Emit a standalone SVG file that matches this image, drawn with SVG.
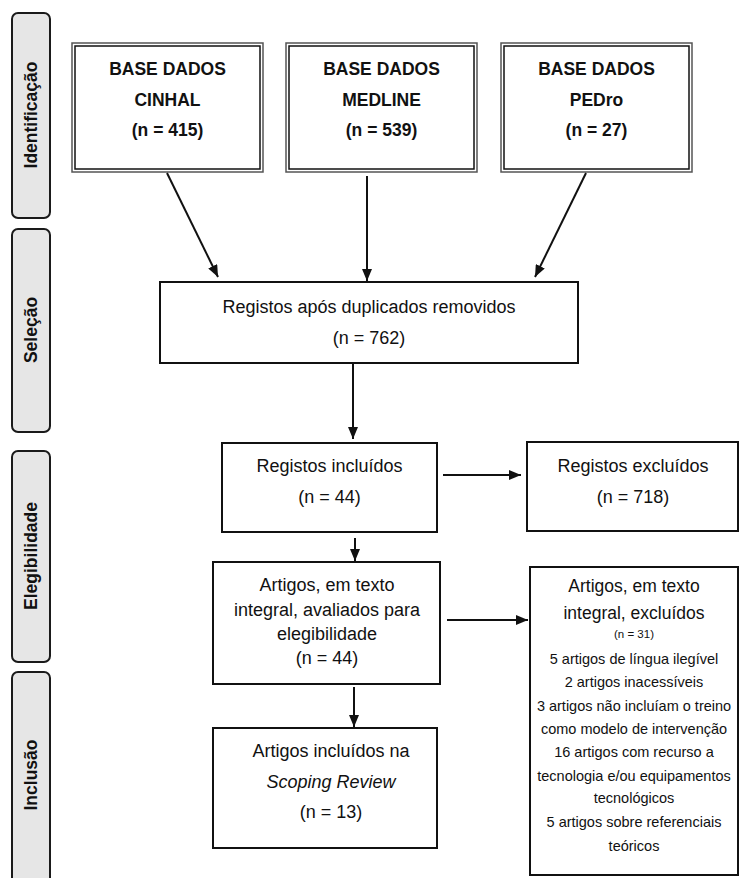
<svg xmlns="http://www.w3.org/2000/svg" width="739" height="878" viewBox="0 0 739 878">
<style>
.tab{fill:#e6e6e6;stroke:#1a1a1a;stroke-width:2}
.tabt{font-family:"Liberation Sans",Arial,sans-serif;font-weight:bold;font-size:17.5px;fill:#111;text-anchor:middle}
.outer{fill:#fff;stroke:#555;stroke-width:1.5}
.inner{fill:none;stroke:#111;stroke-width:1.5}
.box{fill:#fff;stroke:#111;stroke-width:2}
.bt{font-family:"Liberation Sans",Arial,sans-serif;font-weight:bold;font-size:17.5px;fill:#111;text-anchor:middle}
.t{font-family:"Liberation Sans",Arial,sans-serif;font-size:18px;fill:#111;text-anchor:middle}
.h{font-family:"Liberation Sans",Arial,sans-serif;font-size:17.5px;fill:#111;text-anchor:middle}
.s{font-family:"Liberation Sans",Arial,sans-serif;font-size:14.5px;fill:#111;text-anchor:middle}
.xs{font-family:"Liberation Sans",Arial,sans-serif;font-size:11.5px;fill:#111;text-anchor:middle}
.c{stroke:#111;stroke-width:2;fill:none;marker-end:url(#ah)}
</style>
<defs>
<marker id="ah" markerUnits="userSpaceOnUse" markerWidth="12" markerHeight="10" refX="12" refY="5" orient="auto" viewBox="0 0 12 10">
<path d="M0,0 L12,5 L0,10 z" fill="#111"/>
</marker>
</defs>
<g id="tab-identificacao">
<rect class="tab" x="12" y="13" width="38" height="205" rx="6"/>
<text class="tabt" transform="translate(37,115) rotate(-90)">Identificação</text>
</g>
<g id="tab-selecao">
<rect class="tab" x="12" y="229" width="38" height="203" rx="6"/>
<text class="tabt" transform="translate(37,330) rotate(-90)">Seleção</text>
</g>
<g id="tab-elegibilidade">
<rect class="tab" x="12" y="451" width="38" height="211" rx="6"/>
<text class="tabt" transform="translate(37,556) rotate(-90)">Elegibilidade</text>
</g>
<g id="tab-inclusao">
<rect class="tab" x="12" y="672" width="38" height="220" rx="6"/>
<text class="tabt" transform="translate(37,775) rotate(-90)">Inclusão</text>
</g>
<g id="cinhal">
<rect class="outer" x="72" y="43" width="191" height="129"/>
<rect class="inner" x="75" y="46" width="185" height="123"/>
<text class="bt" x="167.5" y="75">BASE DADOS</text>
<text class="bt" x="167.5" y="106">CINHAL</text>
<text class="bt" x="167.5" y="136">(n = 415)</text>
</g>
<g id="medline">
<rect class="outer" x="286" y="43" width="191" height="129"/>
<rect class="inner" x="289" y="46" width="185" height="123"/>
<text class="bt" x="381.5" y="75">BASE DADOS</text>
<text class="bt" x="381.5" y="106">MEDLINE</text>
<text class="bt" x="381.5" y="136">(n = 539)</text>
</g>
<g id="pedro">
<rect class="outer" x="501" y="43" width="191" height="129"/>
<rect class="inner" x="504" y="46" width="185" height="123"/>
<text class="bt" x="596.5" y="75">BASE DADOS</text>
<text class="bt" x="596.5" y="106">PEDro</text>
<text class="bt" x="596.5" y="136">(n = 27)</text>
</g>
<g id="registos-apos">
<rect class="box" x="160" y="282" width="418" height="81"/>
<text class="t" x="369" y="313">Registos após duplicados removidos</text>
<text class="t" x="369" y="344">(n = 762)</text>
</g>
<g id="registos-incluidos">
<rect class="box" x="222" y="443" width="215" height="89"/>
<text class="t" x="329.5" y="472">Registos incluídos</text>
<text class="t" x="329.5" y="503">(n = 44)</text>
</g>
<g id="registos-excluidos">
<rect class="box" x="527" y="442" width="211" height="89"/>
<text class="t" x="633" y="472">Registos excluídos</text>
<text class="t" x="633" y="503">(n = 718)</text>
</g>
<g id="artigos-avaliados">
<rect class="box" x="213" y="562" width="227" height="122"/>
<text class="t" x="327" y="591">Artigos, em texto</text>
<text class="t" x="327" y="616">integral, avaliados para</text>
<text class="t" x="327" y="640">elegibilidade</text>
<text class="t" x="327" y="664">(n = 44)</text>
</g>
<g id="artigos-excluidos">
<rect class="box" x="530" y="567" width="208" height="308"/>
<text class="h" x="634" y="592">Artigos, em texto</text>
<text class="h" x="634" y="619">integral, excluídos</text>
<text class="xs" x="634" y="638">(n = 31)</text>
<text class="s" x="634" y="664">5 artigos de língua ilegível</text>
<text class="s" x="634" y="687">2 artigos inacessíveis</text>
<text class="s" x="634" y="711">3 artigos não incluíam o treino</text>
<text class="s" x="634" y="734">como modelo de intervenção</text>
<text class="s" x="634" y="757">16 artigos com recurso a</text>
<text class="s" x="634" y="781">tecnologia e/ou equipamentos</text>
<text class="s" x="634" y="803">tecnológicos</text>
<text class="s" x="634" y="827">5 artigos sobre referenciais</text>
<text class="s" x="634" y="851">teóricos</text>
</g>
<g id="scoping">
<rect class="box" x="213" y="728" width="224" height="120"/>
<text class="t" x="331" y="757">Artigos incluídos na</text>
<text class="t" x="331" y="788" font-style="italic">Scoping Review</text>
<text class="t" x="331" y="818">(n = 13)</text>
</g>
<g id="connectors">
<line class="c" x1="167" y1="173" x2="218" y2="277"/>
<line class="c" x1="367" y1="176" x2="367" y2="281"/>
<line class="c" x1="586" y1="173" x2="535" y2="277"/>
<line class="c" x1="353" y1="363" x2="353" y2="439"/>
<line class="c" x1="443" y1="475" x2="521" y2="475"/>
<line class="c" x1="355" y1="538" x2="355" y2="561"/>
<line class="c" x1="447" y1="620" x2="528" y2="620"/>
<line class="c" x1="354" y1="687" x2="354" y2="727"/>
</g>
</svg>
